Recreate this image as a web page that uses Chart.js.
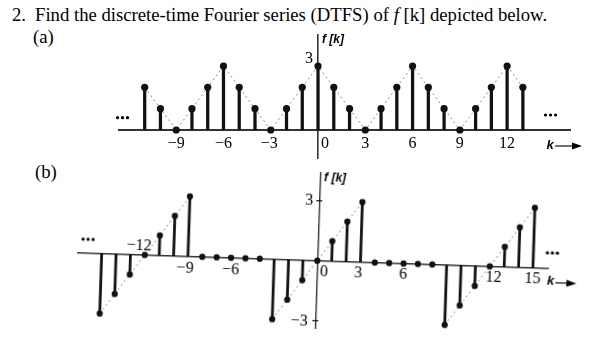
<!DOCTYPE html>
<html><head><meta charset="utf-8">
<script src="https://cdn.jsdelivr.net/npm/chart.js@4"></script>
<style>
html,body{margin:0;padding:0;background:#fff;width:613px;height:345px;overflow:hidden;}
.t{position:absolute;font-family:"Liberation Serif","Times New Roman",serif;font-size:18.7px;line-height:18px;color:#000;white-space:nowrap;}
canvas{position:absolute;left:0;}
#ca{top:25px;}
#cb{top:165px;transform-origin:317.3px 95.7px;transform:rotate(1.9deg);}
</style></head><body>
<div class="t" style="left:12px;top:6px">2.</div>
<div class="t" style="left:35px;top:6px">Find the discrete-time Fourier series (DTFS) of <i>f</i> [k] depicted below.</div>
<div class="t" style="left:33px;top:28px">(a)</div>
<div class="t" style="left:35px;top:163px">(b)</div>
<canvas id="ca" width="613" height="145"></canvas>
<canvas id="cb" width="613" height="180"></canvas>
<script>
// ---- data (a) ----
const kA = [-11,-10,-9,-8,-7,-6,-5,-4,-3,-2,-1,0,1,2,3,4,5,6,7,8,9,10,11,12,13];
const fA = [2,1,0,1,2,3,2,1,0,1,2,3,2,1,0,1,2,3,2,1,0,1,2,3,2];
const xTicksA = [-9,-6,-3,0,3,6,9,12];
const xLabelsA = ['\u22129','\u22126','\u22123','0','3','6','9','12'];
const yTicksA = [3];
const yLabelsA = ['3'];
// ---- data (b) ----
const kB = [-15,-14,-13,-12,-11,-10,-9,-8,-7,-6,-5,-4,-3,-2,-1,0,1,2,3,4,5,6,7,8,9,10,11,12,13,14,15];
const fB = [-3,-2,-1,0,1,2,3,0,0,0,0,0,-3,-2,-1,0,1,2,3,0,0,0,0,0,-3,-2,-1,0,1,2,3];
const guideB = [-3,-2,-1,0,1,2,3,null,null,null,null,null,-3,-2,-1,0,1,2,3,null,null,null,null,null,-3,-2,-1,0,1,2,3];
const xTicksB = [-12,-9,-6,0,3,6,12,15];
const xLabelsB = ['\u221212','\u22129','\u22126','0','3','6','12','15'];
const yTicksB = [3,-3];
const yLabelsB = ['3','\u22123'];
const funcLabel = 'f [k]';
const indexLabel = 'k';

const figPlugin = {
  id: 'fig',
  afterDraw(chart, args, o) {
    const ctx = chart.ctx, xs = chart.scales.x, ys = chart.scales.y, ca = chart.chartArea;
    const x0 = xs.getPixelForValue(0), y0 = ys.getPixelForValue(0);
    ctx.save();
    ctx.fillStyle = '#000';
    ctx.strokeStyle = '#222';
    ctx.font = '16px "Liberation Serif"';
    ctx.textAlign = 'center';
    ctx.textBaseline = 'middle';
    o.xTicks.forEach((v, i) => {
      const off = o.xOff[v] || [0, o.dy];
      ctx.fillText(o.xLabels[i], xs.getPixelForValue(v) + off[0], y0 + off[1]);
    });
    ctx.textAlign = 'right';
    o.yTicks.forEach((v, i) => {
      const off = o.yOff[i];
      ctx.fillText(o.yLabels[i], x0 + off[0], ys.getPixelForValue(v) + off[1]);
      if (o.tickMarks) {
        ctx.lineWidth = 1.3;
        ctx.beginPath();
        ctx.moveTo(x0 - 3, ys.getPixelForValue(v));
        ctx.lineTo(x0 + 3, ys.getPixelForValue(v));
        ctx.stroke();
      }
    });
    ctx.font = 'italic bold 12px "Liberation Sans"';
    ctx.textAlign = 'left';
    ctx.fillText(funcLabel, x0 + o.fk[0], ca.top + o.fk[1]);
    o.dots.forEach(d => {
      const cx = x0 + d[0], cy = y0 + d[1];
      for (let j = -1; j <= 1; j++) {
        ctx.beginPath();
        ctx.arc(cx + j * 5, cy, 1.6, 0, Math.PI * 2);
        ctx.fill();
      }
    });
    const ax = x0 + o.arrow[0], ay = y0 + o.arrow[1];
    ctx.font = 'italic bold 13px "Liberation Sans"';
    ctx.textAlign = 'center';
    ctx.fillText(indexLabel, ax, ay);
    ctx.lineWidth = 1.3;
    ctx.beginPath();
    ctx.moveTo(ax + 5, ay + 1);
    ctx.lineTo(ax + o.arrow[2] - 6, ay + 1);
    ctx.stroke();
    ctx.beginPath();
    ctx.moveTo(ax + o.arrow[2], ay + 1);
    ctx.lineTo(ax + o.arrow[2] - 10, ay - 2.5);
    ctx.lineTo(ax + o.arrow[2] - 10, ay + 4.5);
    ctx.closePath();
    ctx.fill();
    ctx.restore();
  }
};

function makeChart(id, ks, vals, guide, opt) {
  const pts = ks.map((k, i) => ({x: k, y: vals[i]}));
  const gd = ks.map((k, i) => ({x: k, y: guide[i]}));
  return new Chart(document.getElementById(id), {
    type: 'bar',
    data: {
      datasets: [
        {type: 'line', data: pts, showLine: false, pointRadius: opt.r, pointBackgroundColor: '#111',
         pointBorderWidth: 0, borderWidth: 0, order: 0, clip: false},
        {type: 'bar', data: pts, backgroundColor: '#111', barThickness: opt.stem, order: 1, clip: false},
        {type: 'line', data: gd, borderColor: '#8a8a8a', borderWidth: 1, borderDash: [2, 3],
         pointRadius: 0, spanGaps: false, order: 2, clip: false}
      ]
    },
    options: {
      responsive: false, animation: false, devicePixelRatio: 1,
      layout: {padding: opt.pad},
      plugins: {legend: {display: false}, tooltip: {enabled: false}, fig: opt.fig},
      scales: {
        x: {type: 'linear', offset: false, min: opt.xr[0], max: opt.xr[1], position: {y: 0},
            grid: {display: false, drawTicks: false, offset: false}, ticks: {display: false},
            border: {display: true, color: '#333', width: opt.bx}},
        y: {type: 'linear', min: opt.yr[0], max: opt.yr[1], position: {x: 0},
            grid: {display: false, drawTicks: false}, ticks: {display: false},
            border: {display: true, color: '#333', width: opt.by}}
      }
    },
    plugins: [figPlugin]
  });
}

makeChart('ca', kA, fA, fA, {
  r: 3.6, stem: 2.6, bx: 2, by: 1.6,
  pad: {left: 119, right: 43, top: 10, bottom: 12},
  xr: [-12.63, 15.99], yr: [-1.3125, 4.453],
  fig: {xTicks: xTicksA, xLabels: xLabelsA, dy: 14, xOff: {'0': [7, 14], '-3': [-1.5, 14]},
        yTicks: yTicksA, yLabels: yLabelsA, yOff: [[-5, -7]], tickMarks: false,
        fk: [4, 5], dots: [[-195.5, -12.3], [232.5, -15]], arrow: [232, 15, 32]}
});

makeChart('cb', kB, fB, guideB, {
  r: 3.1, stem: 2.1, bx: 1.6, by: 1.4,
  pad: {left: 78, right: 65, top: 8, bottom: 17},
  xr: [-16.64, 16.04], yr: [-3.365, 4.385],
  fig: {xTicks: xTicksB, xLabels: xLabelsB, dy: 11.5,
        xOff: {'-12': [-6, -9], '-9': [-2.5, 12.5], '-6': [0, 12.5], '0': [7, 11.5], '3': [-2, 11.5], '12': [4, 11], '15': [0, 11]},
        yTicks: yTicksB, yLabels: yLabelsB, yOff: [[-6, 0], [-7.5, 1]], tickMarks: true,
        fk: [4, 5], dots: [[-229.8, -13.8], [234.7, -15.5]], arrow: [233.7, 13.2, 26]}
});
</script>
</body></html>
